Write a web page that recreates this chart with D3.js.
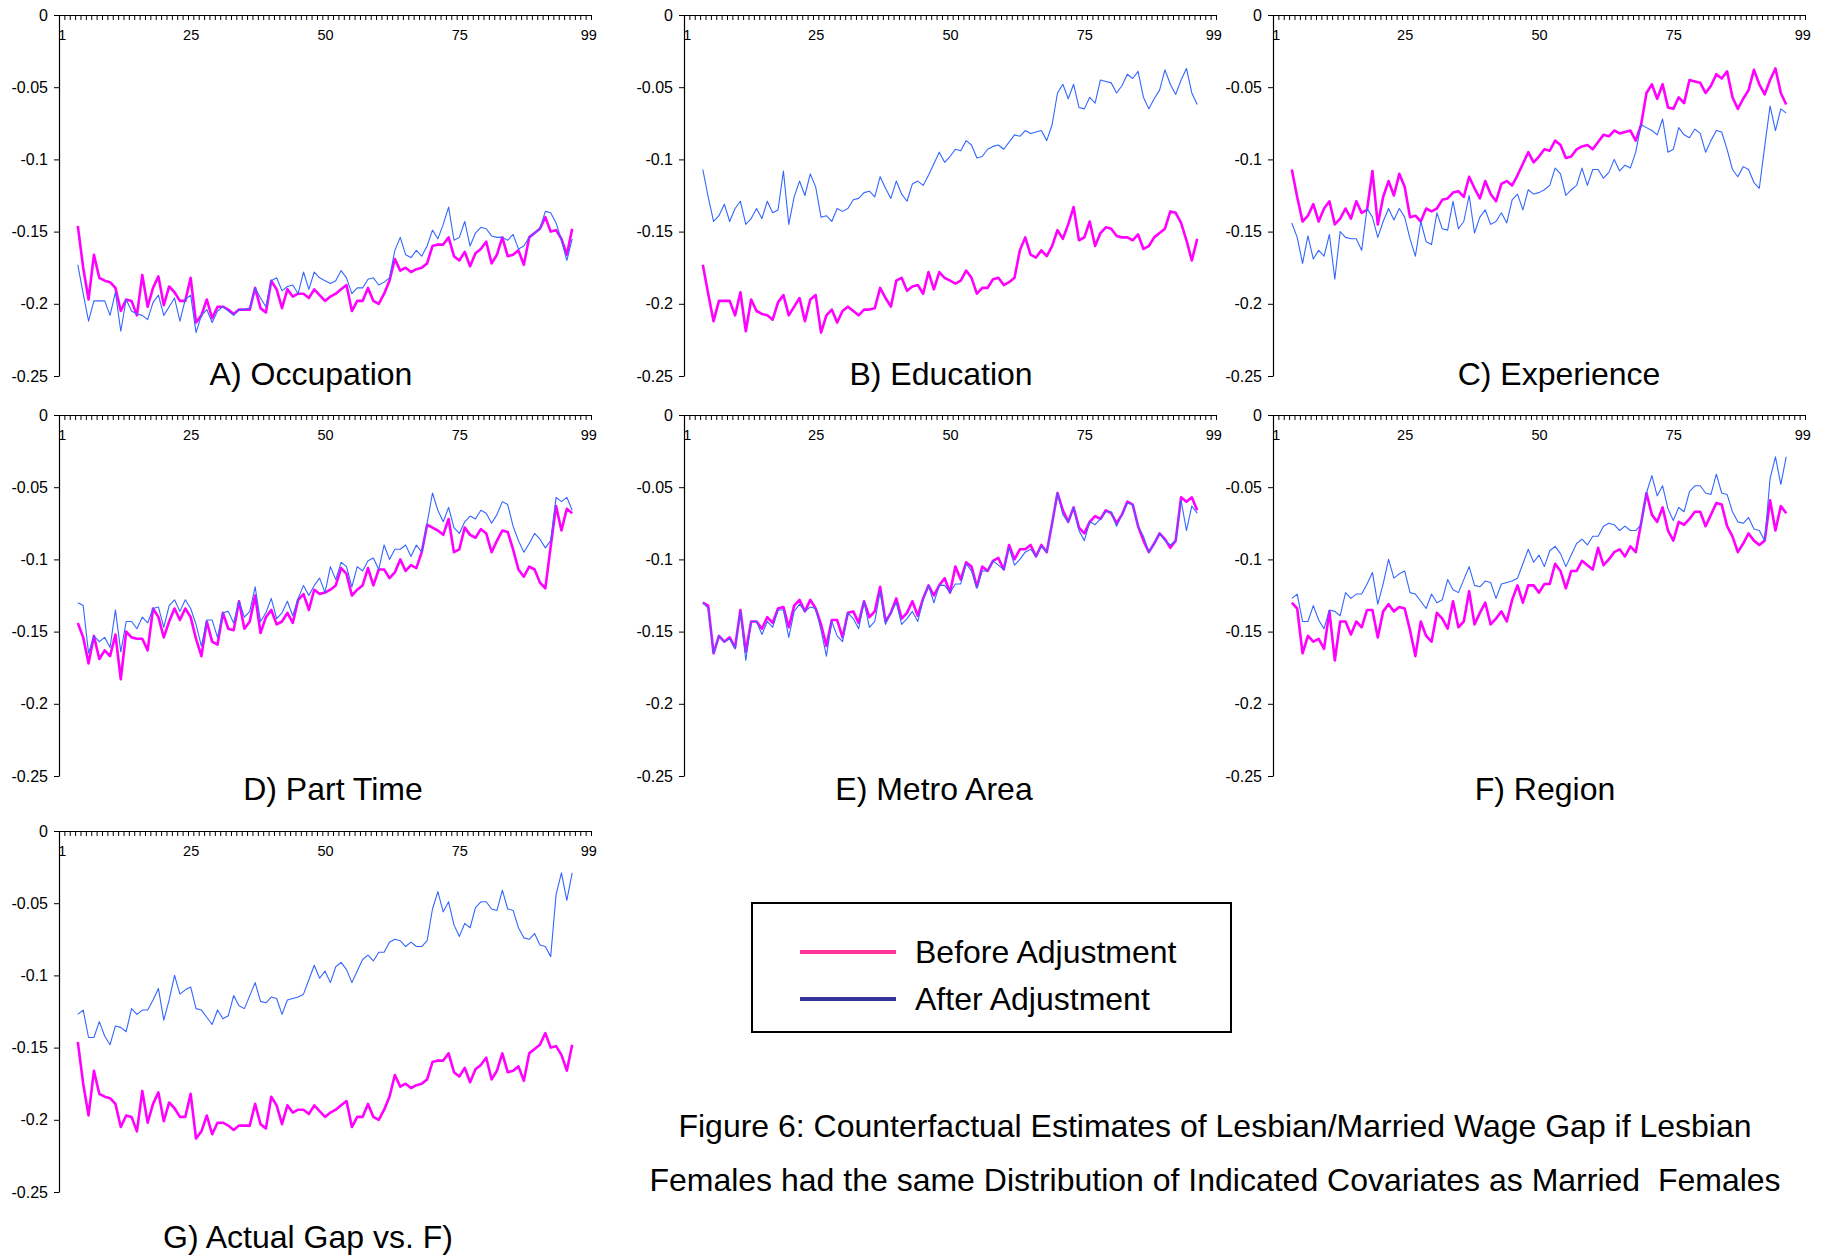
<!DOCTYPE html>
<html>
<head>
<meta charset="utf-8">
<script src="https://cdn.jsdelivr.net/npm/d3@7"></script>
<style>
  html, body { margin: 0; padding: 0; background: #ffffff; }
  svg { display: block; font-family: "Liberation Sans", Arial, Helvetica, sans-serif; }
</style>
</head>
<body>
<svg id="chart" width="1825" height="1256"></svg>
<script>
// Percentile points at which the wage gap is estimated
const percentiles = d3.range(4, 97);

// Raw lesbian/married wage gap (no adjustment)
const gapActual = [-0.146,-0.175,-0.197,-0.166,-0.182,-0.184,-0.185,-0.189,-0.205,-0.197,
 -0.198,-0.208,-0.180,-0.202,-0.189,-0.181,-0.201,-0.188,-0.192,-0.198,
 -0.198,-0.182,-0.213,-0.208,-0.197,-0.210,-0.202,-0.202,-0.204,-0.207,
 -0.204,-0.204,-0.204,-0.189,-0.203,-0.206,-0.184,-0.190,-0.203,-0.190,
 -0.195,-0.193,-0.193,-0.196,-0.190,-0.194,-0.198,-0.195,-0.193,-0.190,
 -0.187,-0.205,-0.198,-0.198,-0.189,-0.198,-0.200,-0.193,-0.184,-0.169,
 -0.177,-0.175,-0.178,-0.176,-0.175,-0.172,-0.160,-0.159,-0.159,-0.154,
 -0.167,-0.170,-0.164,-0.174,-0.165,-0.162,-0.157,-0.172,-0.166,-0.154,
 -0.167,-0.166,-0.163,-0.173,-0.154,-0.151,-0.148,-0.140,-0.150,-0.149,
 -0.155,-0.166,-0.148];

// Gap after adjusting occupation
const gapOccupation = [-0.173,-0.193,-0.212,-0.198,-0.198,-0.198,-0.208,-0.192,-0.219,-0.197,
 -0.205,-0.207,-0.208,-0.211,-0.199,-0.194,-0.208,-0.202,-0.196,-0.212,
 -0.197,-0.194,-0.220,-0.208,-0.204,-0.213,-0.205,-0.202,-0.205,-0.208,
 -0.204,-0.204,-0.203,-0.189,-0.196,-0.202,-0.184,-0.182,-0.191,-0.188,
 -0.187,-0.193,-0.178,-0.190,-0.178,-0.182,-0.184,-0.186,-0.184,-0.177,
 -0.182,-0.193,-0.189,-0.189,-0.183,-0.182,-0.187,-0.185,-0.182,-0.163,
 -0.154,-0.166,-0.168,-0.163,-0.167,-0.160,-0.149,-0.155,-0.145,-0.133,
 -0.156,-0.154,-0.143,-0.160,-0.151,-0.147,-0.148,-0.153,-0.154,-0.154,
 -0.156,-0.152,-0.162,-0.160,-0.154,-0.151,-0.148,-0.136,-0.137,-0.144,
 -0.156,-0.170,-0.155];

// ... plus education
const gapEducation = [-0.107,-0.126,-0.143,-0.139,-0.131,-0.143,-0.134,-0.129,-0.145,-0.141,
 -0.134,-0.141,-0.129,-0.137,-0.135,-0.108,-0.145,-0.126,-0.115,-0.125,
 -0.110,-0.119,-0.140,-0.139,-0.143,-0.134,-0.136,-0.134,-0.128,-0.127,
 -0.123,-0.122,-0.126,-0.112,-0.120,-0.127,-0.115,-0.124,-0.129,-0.117,
 -0.115,-0.118,-0.111,-0.103,-0.095,-0.102,-0.098,-0.093,-0.094,-0.087,
 -0.090,-0.099,-0.098,-0.093,-0.091,-0.090,-0.093,-0.088,-0.083,-0.084,
 -0.080,-0.082,-0.081,-0.080,-0.087,-0.076,-0.054,-0.048,-0.058,-0.048,
 -0.064,-0.065,-0.057,-0.061,-0.045,-0.046,-0.047,-0.054,-0.049,-0.041,
 -0.044,-0.039,-0.057,-0.065,-0.058,-0.052,-0.038,-0.048,-0.055,-0.045,
 -0.037,-0.054,-0.062];

// ... plus experience
const gapExperience = [-0.144,-0.154,-0.172,-0.153,-0.169,-0.163,-0.167,-0.152,-0.183,-0.150,
 -0.154,-0.155,-0.155,-0.163,-0.134,-0.140,-0.154,-0.143,-0.134,-0.142,
 -0.134,-0.140,-0.155,-0.167,-0.143,-0.157,-0.159,-0.137,-0.148,-0.149,
 -0.129,-0.148,-0.143,-0.125,-0.151,-0.140,-0.135,-0.145,-0.143,-0.137,
 -0.144,-0.128,-0.124,-0.135,-0.121,-0.124,-0.123,-0.121,-0.118,-0.106,
 -0.110,-0.125,-0.121,-0.118,-0.106,-0.118,-0.107,-0.107,-0.113,-0.109,
 -0.100,-0.108,-0.104,-0.106,-0.095,-0.076,-0.078,-0.080,-0.083,-0.072,
 -0.095,-0.093,-0.078,-0.083,-0.085,-0.079,-0.082,-0.095,-0.087,-0.080,
 -0.081,-0.093,-0.107,-0.112,-0.105,-0.107,-0.116,-0.120,-0.091,-0.063,
 -0.080,-0.065,-0.068];

// ... plus part-time status
const gapPartTime = [-0.130,-0.132,-0.165,-0.153,-0.157,-0.154,-0.161,-0.135,-0.164,-0.143,
 -0.143,-0.148,-0.140,-0.144,-0.134,-0.133,-0.147,-0.132,-0.128,-0.136,
 -0.128,-0.134,-0.145,-0.160,-0.142,-0.142,-0.154,-0.137,-0.136,-0.144,
 -0.129,-0.140,-0.136,-0.119,-0.143,-0.137,-0.127,-0.141,-0.137,-0.129,
 -0.139,-0.127,-0.118,-0.125,-0.118,-0.113,-0.123,-0.105,-0.114,-0.102,
 -0.105,-0.119,-0.105,-0.108,-0.101,-0.099,-0.107,-0.090,-0.100,-0.093,
 -0.093,-0.090,-0.098,-0.090,-0.095,-0.075,-0.054,-0.066,-0.074,-0.064,
 -0.078,-0.082,-0.074,-0.070,-0.072,-0.066,-0.068,-0.075,-0.069,-0.060,
 -0.062,-0.077,-0.087,-0.095,-0.089,-0.082,-0.086,-0.092,-0.087,-0.057,
 -0.060,-0.057,-0.066];

// ... plus metro area
const gapMetro = [-0.130,-0.134,-0.165,-0.153,-0.157,-0.155,-0.162,-0.136,-0.170,-0.143,
 -0.143,-0.152,-0.143,-0.147,-0.135,-0.135,-0.154,-0.136,-0.131,-0.136,
 -0.133,-0.134,-0.149,-0.167,-0.143,-0.153,-0.157,-0.137,-0.141,-0.148,
 -0.129,-0.147,-0.143,-0.122,-0.145,-0.137,-0.130,-0.145,-0.141,-0.136,
 -0.143,-0.128,-0.118,-0.130,-0.118,-0.118,-0.123,-0.117,-0.117,-0.103,
 -0.108,-0.120,-0.108,-0.108,-0.101,-0.104,-0.107,-0.092,-0.104,-0.100,
 -0.095,-0.093,-0.098,-0.091,-0.095,-0.075,-0.054,-0.069,-0.074,-0.064,
 -0.080,-0.087,-0.074,-0.076,-0.072,-0.067,-0.067,-0.077,-0.069,-0.061,
 -0.062,-0.077,-0.084,-0.095,-0.089,-0.082,-0.087,-0.090,-0.087,-0.059,
 -0.080,-0.063,-0.068];

// ... plus region (all covariates)
const gapRegion = [-0.127,-0.124,-0.143,-0.143,-0.132,-0.142,-0.148,-0.135,-0.136,-0.139,
 -0.123,-0.127,-0.124,-0.124,-0.117,-0.109,-0.131,-0.117,-0.100,-0.113,
 -0.110,-0.108,-0.123,-0.124,-0.129,-0.134,-0.124,-0.130,-0.128,-0.114,
 -0.121,-0.123,-0.114,-0.105,-0.118,-0.119,-0.115,-0.116,-0.127,-0.117,
 -0.116,-0.115,-0.113,-0.103,-0.093,-0.102,-0.097,-0.105,-0.094,-0.091,
 -0.096,-0.105,-0.097,-0.089,-0.086,-0.090,-0.084,-0.084,-0.077,-0.075,
 -0.076,-0.080,-0.077,-0.080,-0.080,-0.076,-0.054,-0.042,-0.056,-0.049,
 -0.065,-0.073,-0.064,-0.067,-0.053,-0.049,-0.049,-0.054,-0.055,-0.041,
 -0.054,-0.055,-0.067,-0.074,-0.075,-0.071,-0.079,-0.080,-0.087,-0.044,
 -0.029,-0.048,-0.029];

// Panel titles and the before/after series shown in each
const panelTitles = ["A) Occupation", "B) Education", "C) Experience",
                     "D) Part Time", "E) Metro Area", "F) Region", "G) Actual Gap vs. F)"];
const beforeSeries = [gapActual, gapOccupation, gapEducation, gapExperience, gapPartTime, gapMetro, gapActual];
const afterSeries  = [gapOccupation, gapEducation, gapExperience, gapPartTime, gapMetro, gapRegion, gapRegion];

// Axis ticks
const xTickValues = [1, 25, 50, 75, 99];
const yTickValues = [0, -0.05, -0.1, -0.15, -0.2, -0.25];
const yTickLabels = ["0", "-0.05", "-0.1", "-0.15", "-0.2", "-0.25"];

const legendLabels = ["Before Adjustment", "After Adjustment"];
const captionLines = [
  "Figure 6: Counterfactual Estimates of Lesbian/Married Wage Gap if Lesbian",
  "Females had the same Distribution of Indicated Covariates as Married  Females"
];

// ---- layout ----
const colX = [59, 684, 1273];
const rowY = [15, 415, 831];
const plotW = 532, plotH = 361;
const titlePos = [[311, 385], [941, 385], [1559, 385],
                  [333, 800], [934, 800], [1545, 800],
                  [308, 1248]];
const colors = { before: "#ff00ff", after: "#3366ff", legendBefore: "#ff3399", legendAfter: "#333399" };
const bigFont = 32;

const svg = d3.select("#chart");
svg.append("rect").attr("width", 1825).attr("height", 1256).attr("fill", "#ffffff");

panelTitles.forEach((title, p) => {
  const left = colX[p % 3];
  const top = rowY[Math.floor(p / 3)];
  const g = svg.append("g");

  const x = d3.scaleLinear().domain([0.5, 99.5]).range([left, left + plotW]);
  const y = d3.scaleLinear().domain([-0.25, 0]).range([top + plotH, top]);

  // category boundary ticks along the zero line
  const boundaries = d3.range(0.5, 100, 1);
  const xMinor = g.append("g")
    .attr("transform", `translate(0,${top})`)
    .call(d3.axisBottom(x).tickValues(boundaries).tickSize(5).tickSizeOuter(0).tickFormat(""));
  xMinor.selectAll("line").attr("stroke", "#000").attr("stroke-width", 1);
  xMinor.select(".domain").attr("stroke", "#000").attr("stroke-width", 1.2);

  const xLab = g.append("g")
    .attr("transform", `translate(0,${top})`)
    .call(d3.axisBottom(x).tickValues(xTickValues).tickSize(0).tickPadding(15).tickFormat(d3.format("d")));
  xLab.select(".domain").remove();
  xLab.selectAll("text").attr("font-size", 14.5).attr("fill", "#000")
    .attr("font-family", "Liberation Sans, Arial, sans-serif");

  const yAx = g.append("g")
    .attr("transform", `translate(${left},0)`)
    .call(d3.axisLeft(y).tickValues(yTickValues).tickSize(5).tickSizeOuter(0).tickPadding(6)
      .tickFormat((d, i) => yTickLabels[i]));
  yAx.select(".domain").attr("stroke", "#000").attr("stroke-width", 1.2);
  yAx.selectAll("line").attr("stroke", "#000");
  yAx.selectAll("text").attr("font-size", 16).attr("fill", "#000")
    .attr("font-family", "Liberation Sans, Arial, sans-serif");

  const line = d3.line()
    .x((d, i) => x(percentiles[i]))
    .y(d => y(d));

  g.append("path").datum(beforeSeries[p])
    .attr("d", line).attr("fill", "none")
    .attr("stroke", colors.before).attr("stroke-width", 2.6).attr("stroke-linejoin", "round");
  g.append("path").datum(afterSeries[p])
    .attr("d", line).attr("fill", "none")
    .attr("stroke", colors.after).attr("stroke-width", 1.1).attr("stroke-linejoin", "round");

  g.append("text")
    .attr("x", titlePos[p][0]).attr("y", titlePos[p][1])
    .attr("text-anchor", "middle").attr("font-size", bigFont).attr("fill", "#000")
    .text(title);
});

// ---- legend ----
const legend = svg.append("g");
legend.append("rect")
  .attr("x", 752).attr("y", 903).attr("width", 479).attr("height", 129)
  .attr("fill", "#fff").attr("stroke", "#000").attr("stroke-width", 2);
const legendColors = [colors.legendBefore, colors.legendAfter];
legendLabels.forEach((lab, i) => {
  const cy = 952 + i * 47;
  legend.append("line")
    .attr("x1", 800).attr("x2", 896).attr("y1", cy).attr("y2", cy)
    .attr("stroke", legendColors[i]).attr("stroke-width", 4);
  legend.append("text")
    .attr("x", 915).attr("y", cy + 11)
    .attr("font-size", bigFont).attr("fill", "#000").text(lab);
});

// ---- caption ----
captionLines.forEach((t, i) => {
  svg.append("text")
    .attr("x", 1215).attr("y", 1137 + i * 54)
    .attr("text-anchor", "middle").attr("font-size", bigFont).attr("fill", "#000")
    .attr("xml:space", "preserve")
    .style("white-space", "pre")
    .text(t);
});
</script>
</body>
</html>
